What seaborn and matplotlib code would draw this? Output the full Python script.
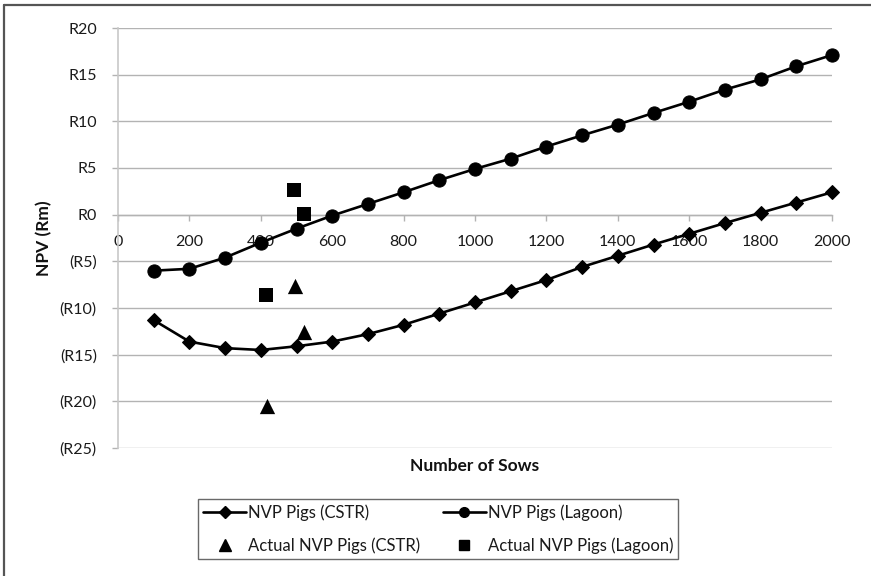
import numpy as np
import pandas as pd
import seaborn as sns
import matplotlib
matplotlib.use("Agg")
import matplotlib.pyplot as plt
from matplotlib.lines import Line2D

# ---- data ----
sows = [100, 200, 300, 400, 500, 600, 700, 800, 900, 1000,
        1100, 1200, 1300, 1400, 1500, 1600, 1700, 1800, 1900, 2000]
npv_cstr = [-11.3, -13.6, -14.3, -14.5, -14.1, -13.6, -12.8, -11.8, -10.6, -9.4,
            -8.2, -7.0, -5.6, -4.4, -3.2, -2.05, -0.9, 0.2, 1.3, 2.4]
npv_lagoon = [-6.0, -5.8, -4.6, -3.0, -1.5, -0.1, 1.15, 2.4, 3.7, 4.9,
              6.0, 7.3, 8.5, 9.65, 10.9, 12.1, 13.4, 14.5, 15.9, 17.1]

actual_cstr_x = [497, 522, 417]
actual_cstr_y = [-7.6, -12.6, -20.5]
actual_lagoon_x = [493, 520, 415]
actual_lagoon_y = [2.6, 0.1, -8.6]

x_ticks = [0, 200, 400, 600, 800, 1000, 1200, 1400, 1600, 1800, 2000]
y_ticks = [20, 15, 10, 5, 0, -5, -10, -15, -20, -25]
y_tick_labels = ["R20", "R15", "R10", "R5", "R0", "(R5)", "(R10)", "(R15)", "(R20)", "(R25)"]

labels = ["NVP Pigs (CSTR)", "NVP Pigs (Lagoon)",
          "Actual NVP Pigs (CSTR)", "Actual NVP Pigs (Lagoon)"]

# ---- style ----
sns.set_style("white")
plt.rcParams["font.family"] = ["Lato", "DejaVu Sans"]

W, H, DPI = 871, 576, 100
fig = plt.figure(figsize=(W / DPI, H / DPI), dpi=DPI)
ax = fig.add_axes([118 / W, 1 - 448 / H, (832 - 118) / W, (448 - 28) / H])

df_c = pd.DataFrame({"x": sows, "y": npv_cstr})
df_l = pd.DataFrame({"x": sows, "y": npv_lagoon})
df_ac = pd.DataFrame({"x": actual_cstr_x, "y": actual_cstr_y})
df_al = pd.DataFrame({"x": actual_lagoon_x, "y": actual_lagoon_y})

lw = 1.9
sns.lineplot(data=df_c, x="x", y="y", ax=ax, color="black", lw=lw,
             marker="D", markersize=7, markeredgecolor="black", zorder=3, clip_on=False)
sns.lineplot(data=df_l, x="x", y="y", ax=ax, color="black", lw=lw,
             marker="o", markersize=9.5, markeredgecolor="black", zorder=3, clip_on=False)
sns.scatterplot(data=df_ac, x="x", y="y", ax=ax, color="black", marker="^",
                s=11 ** 2, edgecolor="black", linewidth=0, zorder=4)
sns.scatterplot(data=df_al, x="x", y="y", ax=ax, color="black", marker="s",
                s=10.5 ** 2, edgecolor="black", linewidth=0, zorder=4)

ax.set_xlim(0, 2000)
ax.set_ylim(-25, 20)
ax.set_xticks(x_ticks)
ax.set_yticks(y_ticks)
ax.set_yticklabels(y_tick_labels)
ax.set_xlabel("")
ax.set_ylabel("")

gridc = "#b3b3b3"
ax.yaxis.grid(True, color=gridc, lw=1.0)
ax.xaxis.grid(False)
ax.set_axisbelow(True)

for s in ["top", "right"]:
    ax.spines[s].set_visible(False)
ax.spines["left"].set_color("#c8c8c8")
ax.spines["left"].set_linewidth(1.2)
ax.spines["bottom"].set_position(("data", 0))
ax.spines["bottom"].set_color(gridc)
ax.spines["bottom"].set_linewidth(1.0)

ax.tick_params(axis="y", which="major", direction="out", length=4.3, width=1,
               color=gridc, pad=11.0, labelsize=11.5, labelcolor="#1a1a1a", left=True)
ax.tick_params(axis="x", which="major", direction="out", length=4.0, width=1,
               color=gridc, pad=11, labelsize=11.5, labelcolor="#1a1a1a", bottom=True)

fig.text(44 / W, 1 - 238 / H, "NPV (Rm)", rotation=90, ha="center", va="center",
         fontsize=12.5, fontweight="bold", color="#111111")
fig.text(475 / W, 1 - 466 / H, "Number of Sows", ha="center", va="center",
         fontsize=12.5, fontweight="bold", color="#111111")

handles = [
    Line2D([], [], color="black", lw=lw, marker="D", markersize=6),
    Line2D([], [], color="black", lw=0, marker="^", markersize=8),
    Line2D([], [], color="black", lw=lw, marker="o", markersize=7),
    Line2D([], [], color="black", lw=0, marker="s", markersize=7),
]
leg_labels = [labels[0], labels[2], labels[1], labels[3]]
leg = fig.legend(handles, leg_labels, ncol=2, loc="upper left",
                 bbox_to_anchor=(198 / W, 1 - 499 / H),
                 frameon=True, fancybox=False, fontsize=12,
                 handlelength=2.6, handletextpad=0.1, columnspacing=1.35,
                 borderaxespad=0, borderpad=0.3, labelspacing=1.0)
leg.get_frame().set_edgecolor("#444444")
leg.get_frame().set_linewidth(1.0)
for t in leg.get_texts():
    t.set_color("#1a1a1a")

# figure frame (top and left edges visible)
fig.add_artist(Line2D([4 / W, 4 / W], [0, 1 - 5 / H], transform=fig.transFigure,
                      color="#555555", lw=1.6))
fig.add_artist(Line2D([4 / W, 1], [1 - 5 / H, 1 - 5 / H], transform=fig.transFigure,
                      color="#555555", lw=1.6))

fig.savefig("out.png", dpi=DPI)
